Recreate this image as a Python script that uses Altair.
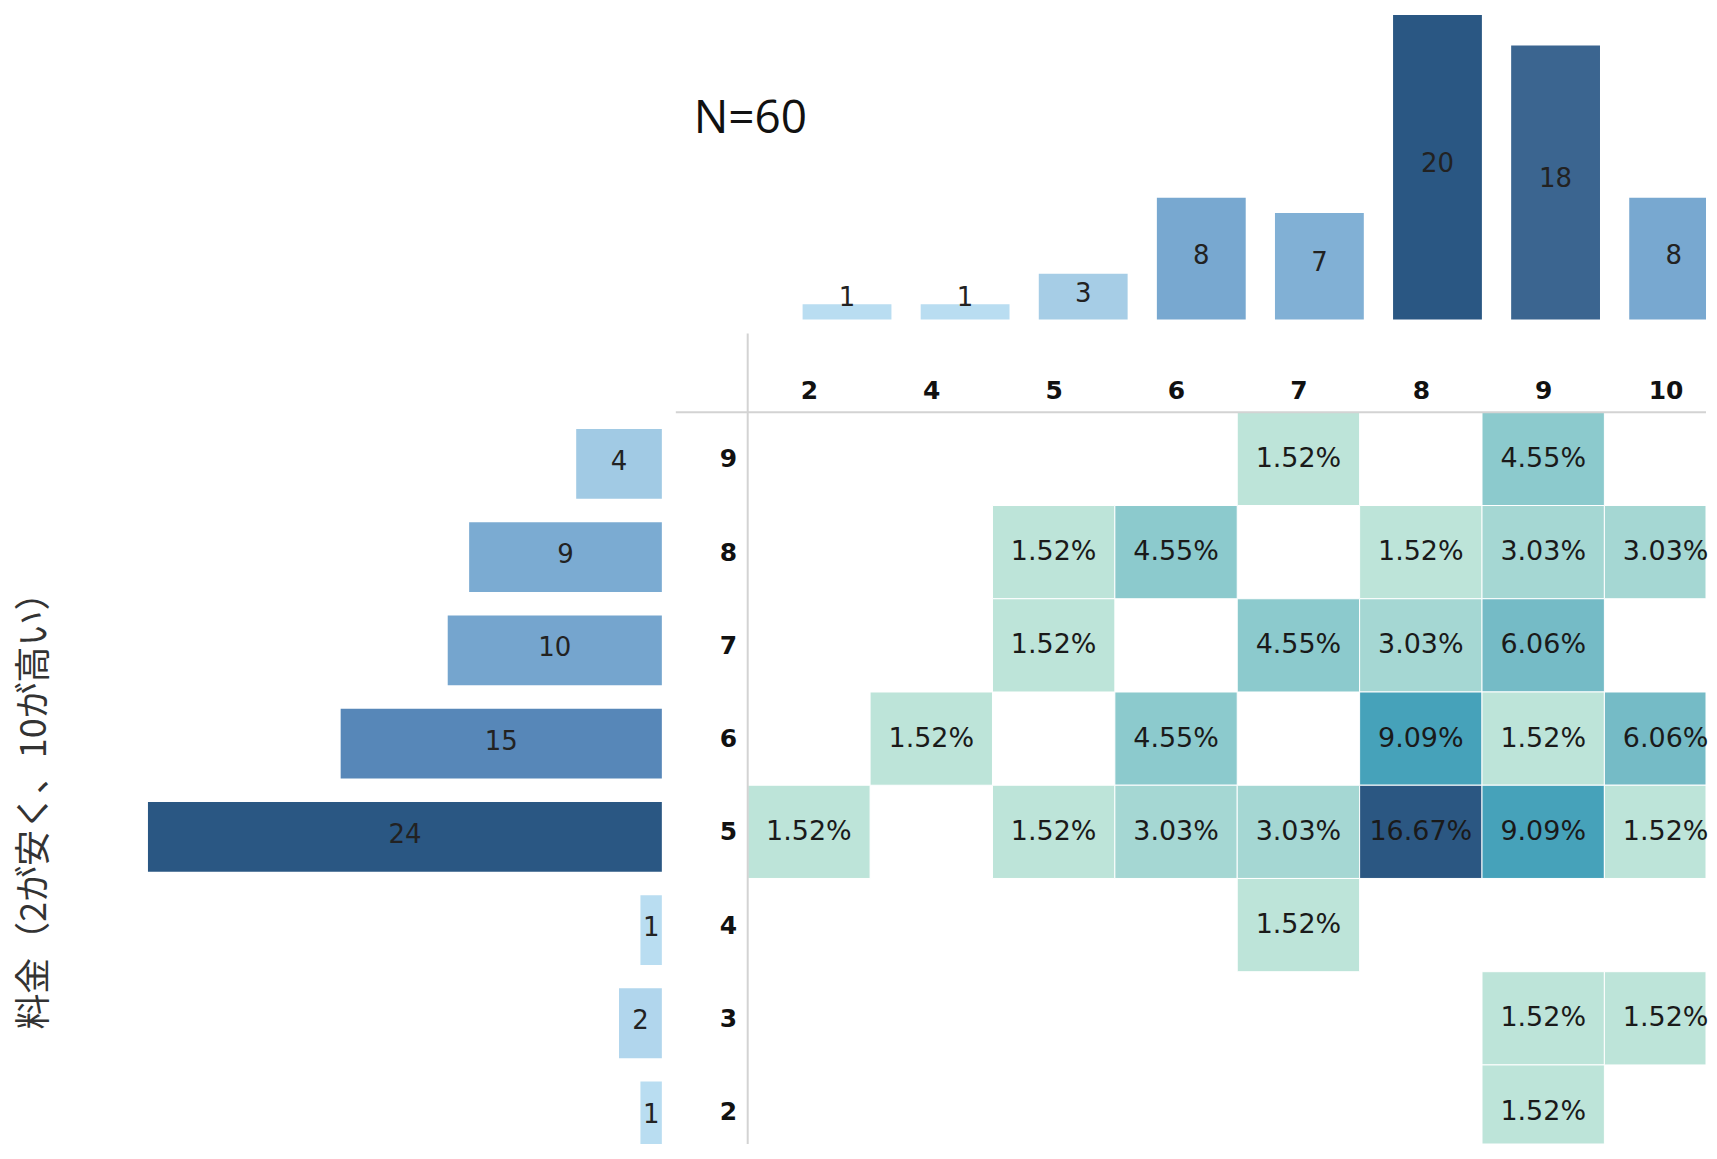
import json
import altair as alt
import pandas as pd

# ---- data ----
# column categories (top axis) and their counts (top bars)
x_cats = ["2", "4", "5", "6", "7", "8", "9", "10"]
x_counts = [1, 1, 3, 8, 7, 20, 18, 8]

# row categories (left axis) and their counts (left bars)
y_cats = ["9", "8", "7", "6", "5", "4", "3", "2"]
y_counts = [4, 9, 10, 15, 24, 1, 2, 1]

# heatmap cells
cell_row = ["9", "9",
            "8", "8", "8", "8", "8",
            "7", "7", "7", "7",
            "6", "6", "6", "6", "6",
            "5", "5", "5", "5", "5", "5", "5",
            "4",
            "3", "3",
            "2"]
cell_col = ["7", "9",
            "5", "6", "8", "9", "10",
            "5", "7", "8", "9",
            "4", "6", "8", "9", "10",
            "2", "5", "6", "7", "8", "9", "10",
            "7",
            "9", "10",
            "9"]
cell_pct = [1.52, 4.55,
            1.52, 4.55, 1.52, 3.03, 3.03,
            1.52, 4.55, 3.03, 6.06,
            1.52, 4.55, 9.09, 1.52, 6.06,
            1.52, 1.52, 3.03, 3.03, 16.67, 9.09, 1.52,
            1.52,
            1.52, 1.52,
            1.52]

n_label = ["N=60"]
y_title = "料金（2が安く、10が高い）"

# ---- styling ----
FONT = "DejaVu Sans"
BLUE_STOPS = [0, 0.12, 0.35, 0.61, 0.9, 1]
BLUE_COLORS = ["#b9ddf1", "#a3cbe5", "#7babd2", "#5787b8", "#3a648f", "#2a5783"]
TEAL_STOPS = [1.52, 3.03, 4.55, 6.06, 9.09, 16.67]
TEAL_COLORS = ["#bde4d9", "#a5d7d3", "#8ccacd", "#75bbc6", "#46a2ba", "#2b5782"]

LEFT_W = 655
TOP_H = 311
HEAT_W = 960
HEAT_H = 733
COL_PX = 122.6      # heatmap column width
ROW_PX = 93.4       # heatmap row height
TOP_STEP = 118.3    # top bar step
TOP_OFF = 55.0      # top bar offset from heatmap left edge
TOP_BAR = 89.0      # top bar width
LEFT_BAR = 70.0     # left bar thickness
LEFT_SHIFT = 5.0    # left bars sit a bit lower than rows

top_df = pd.DataFrame({"score": x_cats, "count": x_counts,
                       "i": [x_cats.index(s) for s in x_cats]})
left_df = pd.DataFrame({"score": y_cats, "count": y_counts,
                        "i": [y_cats.index(s) for s in y_cats]})
cell_df = pd.DataFrame({"row": cell_row, "col": cell_col, "pct": cell_pct,
                        "ci": [x_cats.index(c) for c in cell_col],
                        "ri": [y_cats.index(r) for r in cell_row]})
n_df = pd.DataFrame({"t": n_label})
one_df = pd.DataFrame({"k": [0]})

blue_scale = alt.Scale(domain=BLUE_STOPS, range=BLUE_COLORS)

heat_x_scale = alt.Scale(domain=[0, HEAT_W / COL_PX], clamp=True, nice=False, zero=False)
heat_y_scale = alt.Scale(domain=[0, HEAT_H / ROW_PX], clamp=True, nice=False, zero=False,
                         reverse=True)

# ---- spacer with N=60 ----
spacer = alt.Chart(n_df).mark_text(
    font="Open Sans", fontSize=46, align="left", baseline="alphabetic", color="#111"
).encode(
    text="t:N", x=alt.value(687), y=alt.value(124)
).properties(width=LEFT_W, height=TOP_H)

# ---- top bars ----
top_x_scale = alt.Scale(domain=[0, HEAT_W / TOP_STEP], clamp=True, nice=False, zero=False)
top_y_scale = alt.Scale(domain=[0, 20.4], nice=False)
top_base = alt.Chart(top_df).transform_joinaggregate(
    vmax="max(count)"
).transform_calculate(
    f="(datum.count - 1) / (datum.vmax - 1)",
    lpos="max(datum.count / 2, 1.2)",
    b0=f"datum.i + {TOP_OFF / TOP_STEP}",
    b1=f"datum.i + {(TOP_OFF + TOP_BAR) / TOP_STEP}",
    bc=f"datum.i + {(TOP_OFF + TOP_BAR / 2) / TOP_STEP}",
    zero="0",
)
top_bars = top_base.mark_rect().encode(
    x=alt.X("b0:Q", scale=top_x_scale, axis=None),
    x2="b1:Q",
    y=alt.Y("count:Q", scale=top_y_scale, axis=None),
    y2="zero:Q",
    color=alt.Color("f:Q", scale=blue_scale, legend=None),
)
top_text = top_base.mark_text(
    font=FONT, fontSize=26, color="#222", baseline="middle", dy=-3
).encode(
    x=alt.X("bc:Q", scale=top_x_scale, axis=None),
    y=alt.Y("lpos:Q", scale=top_y_scale, axis=None),
    text="count:Q",
)
top_chart = alt.layer(top_bars, top_text).properties(width=HEAT_W, height=TOP_H)

# ---- left bars ----
left_x_scale = alt.Scale(domain=[0, LEFT_W / 21.45], reverse=True, nice=False)
pad_rows = ((ROW_PX - LEFT_BAR) / 2 + LEFT_SHIFT) / ROW_PX
left_base = alt.Chart(left_df).transform_joinaggregate(
    vmax="max(count)"
).transform_calculate(
    f="(datum.count - 1) / (datum.vmax - 1)",
    half="datum.count / 2",
    zero="0",
    y0=f"datum.i + {pad_rows}",
    y1=f"datum.i + {pad_rows + LEFT_BAR / ROW_PX}",
    yc=f"datum.i + {0.5 + LEFT_SHIFT / ROW_PX}",
)
left_axis = alt.Axis(
    title=y_title, labels=False, ticks=False, domain=False, grid=False,
    titleFont="Noto Sans CJK JP", titleFontSize=36, titleFontWeight="normal",
    titleColor="#333", titleAngle=270, titleAlign="center",
    titleBaseline="middle", titleX=27, titleY=390,
)
left_bars = left_base.mark_rect().encode(
    y=alt.Y("y0:Q", scale=heat_y_scale, axis=left_axis),
    y2="y1:Q",
    x=alt.X("count:Q", scale=left_x_scale, axis=None),
    x2="zero:Q",
    color=alt.Color("f:Q", scale=blue_scale, legend=None),
)
left_text = left_base.mark_text(
    font=FONT, fontSize=26, color="#222", baseline="middle", dy=-2
).encode(
    y=alt.Y("yc:Q", scale=heat_y_scale, axis=left_axis),
    x=alt.X("half:Q", scale=left_x_scale, axis=None),
    text="count:Q",
)
left_chart = alt.layer(left_bars, left_text).properties(width=LEFT_W, height=HEAT_H)

# ---- heatmap ----
heat_x_axis = alt.Axis(
    orient="top", title=None, values=[k + 0.5 for k in range(len(x_cats))],
    labelExpr=f"{json.dumps(x_cats)}[floor(datum.value)]",
    labelFont=FONT, labelFontSize=25, labelFontWeight="bold", labelColor="#111",
    ticks=False, tickSize=0, domain=False, grid=False, labelPadding=9, labelAngle=0,
    labelFlush=False, labelOverlap=False,
)
heat_y_axis = alt.Axis(
    title=None, values=[k + 0.5 for k in range(len(y_cats))],
    labelExpr=f"{json.dumps(y_cats)}[floor(datum.value)]",
    labelFont=FONT, labelFontSize=25, labelFontWeight="bold", labelColor="#111",
    ticks=False, tickSize=0, domain=False, grid=False, labelPadding=11,
    labelFlush=False, labelOverlap=False,
)
heat_base = alt.Chart(cell_df).transform_calculate(
    label="format(datum.pct, '.2f') + '%'",
    c1="datum.ci + 1",
    r1="datum.ri + 1",
    cc="datum.ci + 0.5",
    rc="datum.ri + 0.5",
)
cells = heat_base.mark_rect(stroke="white", strokeWidth=1).encode(
    x=alt.X("ci:Q", scale=heat_x_scale, axis=heat_x_axis),
    x2="c1:Q",
    y=alt.Y("ri:Q", scale=heat_y_scale, axis=heat_y_axis),
    y2="r1:Q",
    color=alt.Color("pct:Q", scale=alt.Scale(domain=TEAL_STOPS, range=TEAL_COLORS),
                    legend=None),
)
cell_text = heat_base.mark_text(
    font=FONT, fontSize=27, color="#1a1a1a", baseline="middle"
).encode(
    x=alt.X("cc:Q", scale=heat_x_scale, axis=heat_x_axis),
    y=alt.Y("rc:Q", scale=heat_y_scale, axis=heat_y_axis),
    text="label:N",
)

vline = alt.Chart(one_df).mark_rule(color="#d3d3d3", strokeWidth=2).encode(
    x=alt.value(0), y=alt.value(-79), y2=alt.value(HEAT_H)
)
hline = alt.Chart(one_df).mark_rule(color="#d3d3d3", strokeWidth=2).encode(
    y=alt.value(0), x=alt.value(-72), x2=alt.value(HEAT_W)
)
heat_chart = alt.layer(cells, cell_text, vline, hline).properties(width=HEAT_W, height=HEAT_H)

chart = alt.concat(
    spacer, top_chart, left_chart, heat_chart,
    columns=2, spacing={"row": 93, "column": 86}, bounds="flush",
).resolve_scale(
    color="independent", x="independent", y="independent"
).properties(
    padding=0, background="white"
).configure_view(stroke=None)

chart.save("out.html", embed_options={"renderer": "svg", "actions": False})
